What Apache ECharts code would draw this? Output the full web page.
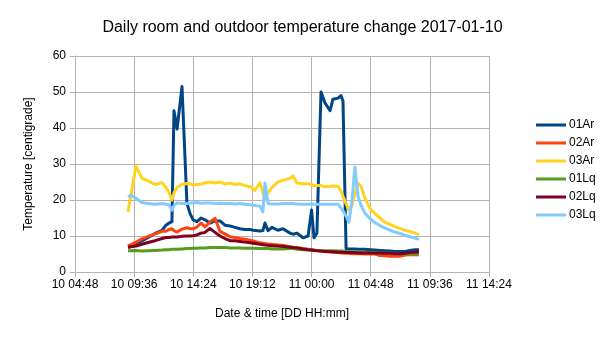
<!DOCTYPE html>
<html>
<head>
<meta charset="utf-8">
<script src="https://cdn.jsdelivr.net/npm/echarts@6/dist/echarts.min.js"></script>
<style>html,body{margin:0;padding:0;background:#fff}#c{width:605px;height:340px}</style>
</head>
<body>
<div id="c"></div>
<script>
var titleText = "Daily room and outdoor temperature change 2017-01-10";
var xAxisName = "Date & time [DD HH:mm]";
var yAxisName = "Temperature [centigrade]";
var seriesNames = ["01Ar", "02Ar", "03Ar", "01Lq", "02Lq", "03Lq"];
var seriesColors = ["#004586", "#ff420e", "#ffd320", "#579d1c", "#7e0021", "#83caff"];

var times = ["10 09:06","10 09:21","10 09:45","10 10:14","10 10:44","10 11:18","10 11:52","10 12:11","10 12:26","10 12:40",
"10 12:50","10 13:05","10 13:29","10 13:53","10 14:08","10 14:23","10 14:42","10 15:02","10 15:21","10 15:45",
"10 16:10","10 16:34","10 16:58","10 17:23","10 17:47","10 18:11","10 18:36","10 19:00","10 19:24","10 19:49",
"10 20:03","10 20:13","10 20:28","10 20:47","10 21:16","10 21:41","10 22:15","10 22:30","10 22:49","10 23:18",
"10 23:43","11 00:00","11 00:12","11 00:26","11 00:46","11 01:05","11 01:30","11 01:44","11 02:09","11 02:23",
"11 02:33","11 02:48","11 03:02","11 03:17","11 03:31","11 03:46","11 04:01","11 04:20","11 04:45","11 05:09",
"11 05:33","11 05:58","11 06:22","11 06:46","11 07:11","11 07:35","11 07:59","11 08:24","11 08:43"];

var ar01 = [7.2,7.3,7.7,8.6,9.6,10.7,11.6,13.0,13.6,14.0,
44.8,39.7,51.5,19.1,16.3,14.5,14.0,15.0,14.5,13.6,
14.2,14.2,13.0,12.8,12.4,12.0,11.8,11.8,11.5,11.4,
11.5,13.6,11.5,12.4,11.6,12.0,10.8,10.5,10.8,9.5,
10.0,17.2,9.5,10.8,50.0,47.0,44.8,48.0,48.3,49.0,
47.5,6.5,6.4,6.4,6.4,6.3,6.3,6.3,6.2,6.1,
6.0,5.9,5.8,5.7,5.7,5.7,6.0,6.2,6.2];
var ar02 = [7.3,7.6,8.3,9.2,9.9,10.6,11.3,11.3,11.8,12.0,
11.5,11.1,11.9,12.3,12.1,12.0,12.5,13.6,12.5,13.9,
14.9,11.3,10.6,9.8,9.6,9.3,9.1,8.8,8.5,8.1,
8.0,7.9,7.8,7.7,7.5,7.4,7.0,6.9,6.8,6.5,
6.3,6.2,6.1,6.0,5.8,5.7,5.6,5.5,5.4,5.3,
5.3,5.2,5.2,5.1,5.1,5.1,5.1,5.0,5.0,5.0,
4.6,4.5,4.4,4.4,4.4,4.7,4.8,4.8,4.8];
var ar03 = [16.7,21.5,29.4,26.0,25.3,24.3,24.8,23.5,22.0,20.0,
22.0,23.5,24.3,24.6,24.5,24.2,24.3,24.4,24.8,25.0,
24.7,25.0,24.5,24.7,24.3,24.5,24.0,23.7,22.7,24.8,
22.0,20.2,22.0,23.5,25.0,25.5,26.0,26.7,24.7,24.5,
24.5,24.3,24.0,24.0,24.0,23.7,23.8,23.9,23.8,22.5,
21.0,19.0,17.2,18.5,22.0,24.6,23.8,20.5,17.6,16.2,
15.0,13.8,13.2,12.6,12.1,11.6,11.2,10.8,10.4];
var lq01 = [5.9,5.9,6.0,5.8,5.9,6.0,6.1,6.2,6.2,6.3,
6.3,6.3,6.4,6.5,6.5,6.6,6.6,6.7,6.7,6.8,
6.8,6.8,6.8,6.7,6.7,6.7,6.6,6.6,6.6,6.5,
6.5,6.5,6.5,6.4,6.4,6.4,6.5,6.5,6.3,6.2,
6.1,6.1,6.0,6.0,6.0,5.9,5.9,5.9,5.8,5.8,
5.8,5.7,5.6,5.6,5.5,5.5,5.5,5.4,5.4,5.3,
5.3,5.2,5.2,5.1,5.1,5.0,5.0,5.0,5.0];
var lq02 = [6.8,7.0,7.2,7.7,8.2,8.7,9.3,9.6,9.6,9.7,
9.7,9.7,9.9,10.0,10.0,10.1,10.3,10.8,11.0,12.1,
11.0,10.0,9.3,8.7,8.7,8.5,8.3,8.1,7.9,7.7,
7.6,7.5,7.4,7.3,7.2,7.1,6.9,6.8,6.7,6.4,
6.2,6.1,6.0,5.9,5.8,5.7,5.6,5.6,5.5,5.5,
5.5,5.4,5.4,5.4,5.4,5.3,5.3,5.3,5.3,5.3,
5.3,5.2,5.2,5.1,5.1,5.2,5.4,5.5,5.6];
var lq03 = [20.9,21.3,20.5,19.3,19.0,18.8,19.0,18.8,18.7,17.2,
18.5,19.2,19.0,19.0,19.1,19.2,19.3,19.1,19.2,19.2,
19.0,19.1,19.0,19.0,18.9,19.0,18.8,18.7,18.5,18.3,
16.7,24.7,19.0,18.9,18.9,19.0,19.0,19.0,18.9,18.8,
18.8,18.8,18.8,18.8,18.8,18.8,18.8,18.8,18.8,17.8,
17.0,15.5,13.8,20.0,29.2,21.0,18.5,16.3,14.8,13.7,
12.9,12.2,11.6,11.1,10.7,10.2,9.8,9.4,9.1];

var yTicks = [0, 10, 20, 30, 40, 50, 60];
var xTickStart = "10 04:48", xTickEnd = "11 14:24", xTickStep = "04:48";

function toMin(s) {
  var p = s.split(" "), d = parseInt(p[0], 10), hm = p[1].split(":");
  return (d - 10) * 1440 + parseInt(hm[0], 10) * 60 + parseInt(hm[1], 10);
}
function hmToMin(s) { var hm = s.split(":"); return parseInt(hm[0],10)*60 + parseInt(hm[1],10); }
function fmt(m) {
  var d = 10 + Math.floor(m / 1440), r = Math.round(m - (d - 10) * 1440);
  var h = Math.floor(r / 60), mm = r % 60;
  return d + " " + (h < 10 ? "0" : "") + h + ":" + (mm < 10 ? "0" : "") + mm;
}
var allData = [ar01, ar02, ar03, lq01, lq02, lq03];
var tMin = times.map(toMin);

var chart = echarts.init(document.getElementById("c"), null, {renderer: "canvas"});
var font = "Liberation Sans";
chart.setOption({
  animation: false,
  backgroundColor: "#fff",
  title: {
    text: titleText, left: "center", top: 15,
    textStyle: {fontFamily: font, fontSize: 16, fontWeight: "normal", color: "#000"}
  },
  legend: {
    orient: "vertical", left: 531, top: 114, itemGap: 6,
    itemWidth: 30, itemHeight: 12,
    textStyle: {fontFamily: font, fontSize: 12, color: "#000", padding: [0,0,0,-2]},
    icon: "path://M0,0 L30,0 L30,3 L0,3 Z",
    data: seriesNames
  },
  grid: {left: 75, right: 116, top: 56, bottom: 68},
  xAxis: {
    type: "value",
    min: toMin(xTickStart), max: toMin(xTickEnd), interval: hmToMin(xTickStep),
    name: xAxisName, nameLocation: "middle", nameGap: 36,
    nameTextStyle: {fontFamily: font, fontSize: 12, color: "#000"},
    axisLine: {show: true, lineStyle: {color: "#b3b3b3", width: 1}},
    axisTick: {show: true, length: 5, lineStyle: {color: "#b3b3b3"}},
    axisLabel: {fontFamily: font, fontSize: 12, color: "#000", margin: 7, formatter: fmt},
    splitLine: {show: true, lineStyle: {color: "#b3b3b3", width: 1}}
  },
  yAxis: {
    type: "value", min: yTicks[0], max: yTicks[yTicks.length-1], interval: yTicks[1]-yTicks[0],
    name: yAxisName, nameLocation: "middle", nameGap: 40,
    nameTextStyle: {fontFamily: font, fontSize: 12, color: "#000"},
    axisLine: {show: true, lineStyle: {color: "#b3b3b3", width: 1}},
    axisTick: {show: true, length: 5, lineStyle: {color: "#b3b3b3"}},
    axisLabel: {fontFamily: font, fontSize: 12, color: "#000", margin: 9},
    splitLine: {show: true, lineStyle: {color: "#b3b3b3", width: 1}}
  },
  series: seriesNames.map(function (n, i) {
    return {
      name: n, type: "line", showSymbol: false, symbol: "none",
      color: seriesColors[i],
      lineStyle: {width: 3, color: seriesColors[i], join: "round"},
      data: tMin.map(function (t, k) { return [t, allData[i][k]]; })
    };
  })
});
</script>
</body>
</html>
